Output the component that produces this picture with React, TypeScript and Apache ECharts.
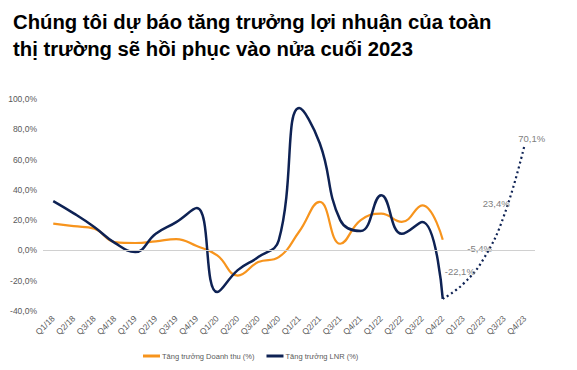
import React, { useEffect, useRef } from "react";
import * as echarts from "echarts";

const categories = [
  "Q1/18", "Q2/18", "Q3/18", "Q4/18", "Q1/19", "Q2/19", "Q3/19", "Q4/19",
  "Q1/20", "Q2/20", "Q3/20", "Q4/20", "Q1/21", "Q2/21", "Q3/21", "Q4/21",
  "Q1/22", "Q2/22", "Q3/22", "Q4/22", "Q1/23", "Q2/23", "Q3/23", "Q4/23",
];
const revenueGrowth = [
  17.7, 16, 14.4, 5.5, 4.9, 6, 7.5, 2.9,
  -3.3, -16.6, -7.7, -4.4, 12.5, 32, 4.4, 20,
  24.3, 18.8, 29.8, 7, null, null, null, null,
];
const profitGrowth = [
  32.6, 24.5, 15.5, 5, -1, 11, 18.7, 28,
  -27.5, -13, -4.4, 6.6, 94, 70.8, 20, 12.8,
  36.4, 11, 18.8, -32, null, null, null, null,
];
const forecastGrowth = [
  null, null, null, null, null, null, null, null,
  null, null, null, null, null, null, null, null,
  null, null, null, -32, -22.1, -5.4, 23.4, 70.1,
];
const yTicks = { min: -40, max: 100, interval: 20 };

const ORANGE = "#F7941D";
const NAVY = "#0E2254";
const FONT = "Liberation Sans, Arial, sans-serif";

const fmt = (v: number) => v.toFixed(1).replace(".", ",") + "%";

export default function App() {
  const ref = useRef<HTMLDivElement>(null);
  useEffect(() => {
    const chart = echarts.init(ref.current!, undefined, { renderer: "svg" });
    const labelPositions: Record<number, number[]> = {
      20: [-18, -17],
      21: [-16, -15],
      22: [-21, -16],
      23: [-6, -10],
    };
    const forecastData = forecastGrowth.map((v, i) => {
      if (v === null) return null;
      const pos = labelPositions[i];
      if (!pos) return { value: v, label: { show: false } };
      return {
        value: v,
        label: {
          show: true,
          position: pos,
          formatter: (p: any) => fmt(p.value),
          color: "#7f7f7f",
          fontSize: 9.5,
          fontFamily: FONT,
        },
      };
    });
    chart.setOption({
      animation: false,
      textStyle: { fontFamily: FONT },
      title: {
        text: "Chúng tôi dự báo tăng trưởng lợi nhuận của toàn\nthị trường sẽ hồi phục vào nửa cuối 2023",
        left: 8,
        top: 3,
        textStyle: {
          fontFamily: FONT,
          fontSize: 20.3,
          fontWeight: "bold",
          color: "#000",
          lineHeight: 27,
        },
      },
      grid: { left: 43, right: 42, top: 99, bottom: 59 },
      legend: {
        bottom: 5,
        left: 138,
        itemWidth: 17,
        itemHeight: 3,
        itemGap: 12,
        icon: "rect",
        data: ["Tăng trưởng Doanh thu (%)", "Tăng trưởng LNR (%)"],
        textStyle: { fontSize: 7.5, color: "#595959", fontFamily: FONT, padding: [0, 0, 0, -3] },
      },
      xAxis: {
        type: "category",
        data: categories,
        boundaryGap: true,
        axisLine: { show: false, onZero: false },
        axisTick: { show: false },
        axisLabel: {
          rotate: 45,
          fontSize: 8.5,
          color: "#595959",
          interval: 0,
          margin: 6,
          fontFamily: FONT,
        },
      },
      yAxis: {
        type: "value",
        min: yTicks.min,
        max: yTicks.max,
        interval: yTicks.interval,
        axisLine: { show: false },
        axisTick: { show: false },
        splitLine: { show: false },
        axisLabel: {
          formatter: (v: number) => fmt(v),
          fontSize: 8.5,
          color: "#595959",
          margin: 6,
          fontFamily: FONT,
        },
      },
      series: [
        {
          name: "Tăng trưởng Doanh thu (%)",
          type: "line",
          data: revenueGrowth,
          smooth: 0.45,
          showSymbol: false,
          symbol: "none",
          color: ORANGE,
          lineStyle: { color: ORANGE, width: 2.2 },
          z: 3,
          markLine: {
            silent: true,
            symbol: "none",
            label: { show: false },
            lineStyle: { color: "#d0d0d0", type: "solid", width: 1 },
            data: [{ yAxis: 0 }],
          },
        },
        {
          name: "Tăng trưởng LNR (%)",
          type: "line",
          data: profitGrowth,
          smooth: 0.45,
          showSymbol: false,
          symbol: "none",
          color: NAVY,
          lineStyle: { color: NAVY, width: 2.5 },
          z: 4,
        },
        {
          name: "Dự báo LNR",
          type: "line",
          data: forecastData,
          smooth: 0.45,
          symbol: "circle",
          symbolSize: 1,
          showSymbol: true,
          itemStyle: { color: "rgba(0,0,0,0)" },
          color: NAVY,
          lineStyle: { color: NAVY, width: 2.2, type: [2, 3] },
          labelLayout: { hideOverlap: false },
          z: 4,
        },
      ],
    });
    return () => chart.dispose();
  }, []);
  return (
    <div
      ref={ref}
      style={{ position: "fixed", left: 0, top: 0, width: 577, height: 370, background: "#fff" }}
    />
  );
}
